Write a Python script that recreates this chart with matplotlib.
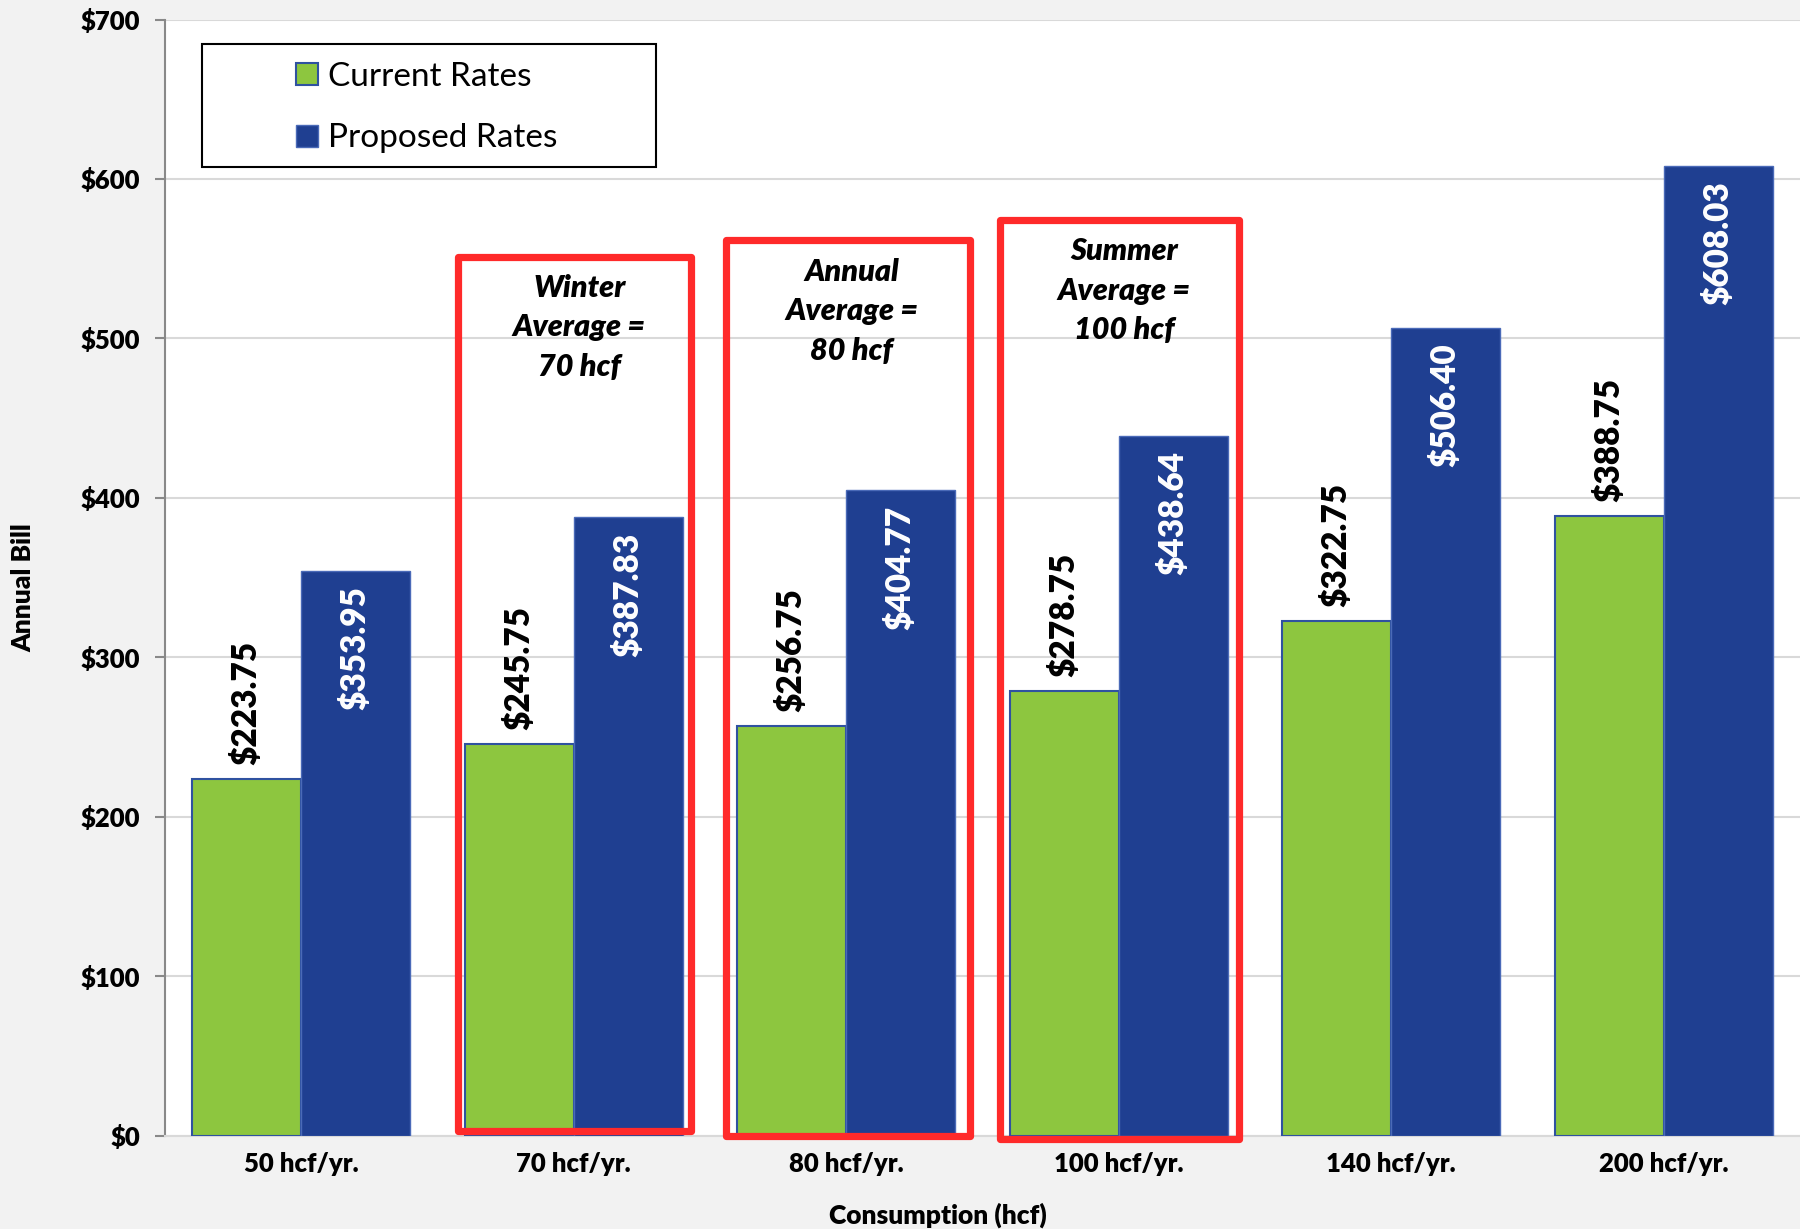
import matplotlib
matplotlib.use("Agg")
import matplotlib.pyplot as plt
from matplotlib.patches import Rectangle, Patch
from matplotlib.ticker import FuncFormatter, MultipleLocator
import numpy as np

categories = ["50 hcf/yr.", "70 hcf/yr.", "80 hcf/yr.", "100 hcf/yr.", "140 hcf/yr.", "200 hcf/yr."]
current_rates = [223.75, 245.75, 256.75, 278.75, 322.75, 388.75]
proposed_rates = [353.95, 387.83, 404.77, 438.64, 506.40, 608.03]
series_names = ["Current Rates", "Proposed Rates"]
highlight_idx = [1, 2, 3]
highlight_text = ["Winter\nAverage =\n70 hcf", "Annual\nAverage =\n80 hcf", "Summer\nAverage =\n100 hcf"]

GREEN = "#8dc63f"
BLUE = "#1f3f91"
RED = "#ff2a2a"

plt.rcParams['font.family'] = ['Lato', 'DejaVu Sans']

fig = plt.figure(figsize=(18, 12.29), dpi=100, facecolor="#f2f2f2")
ax = fig.add_axes([165/1800, 1 - 1135.5/1229, 1 - 165/1800, (1135.5 - 19.5)/1229])
ax.set_facecolor("white")

x = np.arange(len(categories))
w = 0.4
b1 = ax.bar(x - w/2, current_rates, w, color=GREEN, edgecolor="#2f52a0", linewidth=1.5, zorder=3)
b2 = ax.bar(x + w/2, proposed_rates, w, color=BLUE, edgecolor="#4a6ab8", linewidth=1.0, zorder=3)

ax.set_xlim(-0.5, len(categories) - 0.5)
ax.set_ylim(0, 700)
ax.yaxis.set_major_locator(MultipleLocator(100))
ax.yaxis.set_major_formatter(FuncFormatter(lambda v, p: f"${int(v)}"))
ax.grid(axis="y", color="#d9d9d9", linewidth=1.5, zorder=0)
ax.set_axisbelow(True)
ax.set_xticks(x)
ax.set_xticklabels(categories, fontsize=18.5, fontweight="heavy")
ax.tick_params(axis="x", length=0, pad=12)
ax.tick_params(axis="y", length=7, width=1.5, color="#898989", pad=11, labelsize=18.5)
for lab in ax.get_yticklabels():
    lab.set_fontweight("heavy")
for s in ["top", "right"]:
    ax.spines[s].set_visible(False)
ax.spines["left"].set_color("#898989")
ax.spines["left"].set_linewidth(1.5)
ax.spines["bottom"].set_color("#d9d9d9")
ax.spines["bottom"].set_linewidth(1.5)

# value labels
for rect, v in zip(b1, current_rates):
    ax.annotate(f"${v:,.2f}", (rect.get_x() + rect.get_width()/2, v), xytext=(0, 10),
                textcoords="offset points", rotation=90, ha="center", va="bottom",
                fontsize=24, fontweight="heavy", color="black", zorder=5)
for rect, v in zip(b2, proposed_rates):
    ax.annotate(f"${v:,.2f}", (rect.get_x() + rect.get_width()/2, v), xytext=(0, -11),
                textcoords="offset points", rotation=90, ha="center", va="top",
                fontsize=24, fontweight="heavy", color="white", zorder=5)

# highlight boxes
box_geom = [(-0.425, 0.432, 3.0, 551), (-0.44, 0.453, -0.6, 561.4), (-0.436, 0.44, -2.1, 574.4)]
text_top = [540.5, 550.5, 563.5]
for i, (idx, (l, r, bt, tp)) in enumerate(zip(highlight_idx, box_geom)):
    rect = Rectangle((idx + l, bt), r - l, tp - bt, fill=False, edgecolor=RED, linewidth=5.2,
                     joinstyle="round", zorder=6, clip_on=False)
    ax.add_patch(rect)
    ax.text(idx + 0.02, text_top[i], highlight_text[i], ha="center", va="top", fontsize=22,
            fontweight="heavy", fontstyle="italic", linespacing=1.5, zorder=7)

# legend
ax.add_patch(Rectangle((0.0224, 0.868), 0.2776, 0.110, transform=ax.transAxes, facecolor="white",
                       edgecolor="black", linewidth=1.5, zorder=8))
handles = [Patch(facecolor=GREEN, edgecolor="#2f52a0", linewidth=1.5),
           Patch(facecolor=BLUE, edgecolor="#4a6ab8", linewidth=1.0)]
leg = ax.legend(handles, series_names, loc="center", bbox_to_anchor=(0.16, 0.921), frameon=False,
                fontsize=24, handlelength=0.65, handleheight=0.65, handletextpad=0.3, labelspacing=0.95)
leg.set_zorder(9)

fig.text(938/1800, 1 - 1215/1229, "Consumption (hcf)", ha="center", va="center", fontsize=19, fontweight="heavy")
fig.text(23/1800, 1 - 588/1229, "Annual Bill", ha="center", va="center", rotation=90, fontsize=19, fontweight="heavy")

fig.savefig("out.png", dpi=100, facecolor=fig.get_facecolor())
